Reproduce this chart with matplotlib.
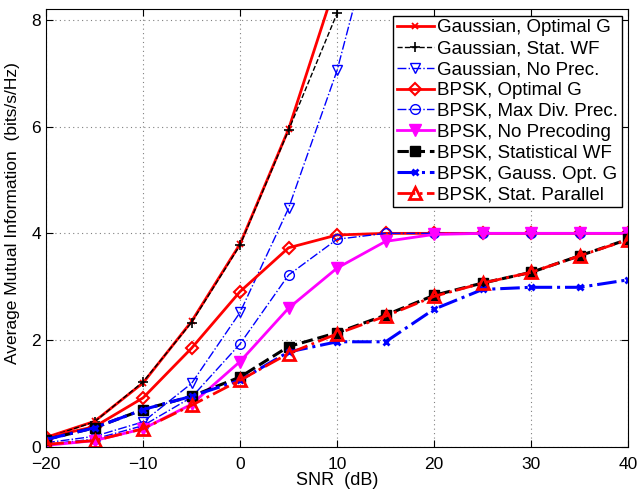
import numpy as np
import matplotlib
matplotlib.use('Agg')
import matplotlib.pyplot as plt

plt.rcParams['font.family'] = ['Liberation Sans', 'DejaVu Sans']

snr = [-20, -15, -10, -5, 0, 5, 10, 15, 20, 25, 30, 35, 40]

# Gaussian input curves (go off the top of the plot)
gauss_opt = [0.18, 0.48, 1.2, 2.35, 3.8, 5.95, 8.75]
gauss_wf = [0.17, 0.47, 1.22, 2.33, 3.78, 5.93, 8.12]
gauss_noprec = [0.08, 0.2, 0.47, 1.19, 2.52, 4.47, 7.05, 10.5]

bpsk_opt = [0.18, 0.38, 0.92, 1.85, 2.91, 3.73, 3.97, 4.0, 4.0, 4.0, 4.0, 4.0, 4.0]
bpsk_maxdiv = [0.05, 0.15, 0.4, 0.93, 1.93, 3.22, 3.89, 4.0, 4.0, 4.0, 4.0, 4.0, 4.0]
bpsk_noprec = [0.03, 0.12, 0.34, 0.8, 1.6, 2.6, 3.35, 3.85, 3.98, 4.0, 4.0, 4.0, 4.0]
bpsk_wf = [0.14, 0.36, 0.7, 0.95, 1.31, 1.88, 2.14, 2.47, 2.84, 3.07, 3.27, 3.58, 3.89]
bpsk_gopt = [0.14, 0.36, 0.7, 0.95, 1.25, 1.78, 1.97, 1.97, 2.58, 2.95, 2.99, 2.99, 3.13]
bpsk_par = [0.05, 0.12, 0.34, 0.78, 1.25, 1.75, 2.12, 2.45, 2.82, 3.07, 3.27, 3.58, 3.88]

fig = plt.figure(figsize=(6.39, 4.91), dpi=100)
ax = fig.add_axes([0.072, 0.0896, 0.911, 0.892])

def n(y):
    return snr[:len(y)]

ax.plot(n(gauss_opt), gauss_opt, '-', color='red', lw=2, marker='x', ms=5, mew=1.3,
        label='Gaussian, Optimal G')
ax.plot(n(gauss_wf), gauss_wf, '--', color='black', lw=1, marker='+', ms=7, mew=1.2,
        label='Gaussian, Stat. WF')
ax.plot(n(gauss_noprec), gauss_noprec, '-.', color='blue', lw=1, marker='v', ms=7,
        mfc='none', label='Gaussian, No Prec.')
ax.plot(snr, bpsk_opt, '-', color='red', lw=2, marker='D', ms=6, mfc='none', mew=1.5,
        label='BPSK, Optimal G')
ax.plot(snr, bpsk_maxdiv, '-.', color='blue', lw=1, marker='o', ms=7, mfc='none',
        label='BPSK, Max Div. Prec.')
ax.plot(snr, bpsk_noprec, '-', color='magenta', lw=2, marker='v', ms=9,
        label='BPSK, No Precoding')
ax.plot(snr, bpsk_wf, '--', color='black', lw=2.2, marker='s', ms=7, mfc='black',
        label='BPSK, Statistical WF')
ax.plot(snr, bpsk_gopt, '-.', color='blue', lw=2.2, marker='x', ms=5, mew=2,
        label='BPSK, Gauss. Opt. G')
ax.plot(snr, bpsk_par, '-.', color='red', lw=2, marker='^', ms=9, mfc='none', mew=2,
        label='BPSK, Stat. Parallel')

ax.set_xlim(-20, 40)
ax.set_ylim(0, 8.2)
ax.set_xticks([-20, -10, 0, 10, 20, 30, 40])
ax.set_yticks([0, 2, 4, 6, 8])
ax.grid(True, linestyle=(0, (1, 3)), color='0.5', lw=0.8)
ax.tick_params(direction='in', labelsize=12.5, length=5, top=True, right=True)
ax.tick_params(axis='x', pad=7)
ax.set_xlabel('SNR  (dB)', fontsize=13, labelpad=0)
ax.set_ylabel('Average Mutual Information  (bits/s/Hz)', fontsize=12.5)
ax.yaxis.set_label_coords(-0.045, 0.535)

leg = ax.legend(loc='upper right', fontsize=13.5, fancybox=False, framealpha=1,
                edgecolor='black', handlelength=2.0, handletextpad=0.15,
                labelspacing=0.2, borderpad=0.2, borderaxespad=0.35)
leg.get_frame().set_linewidth(1)

fig.savefig('out.png', dpi=100)
